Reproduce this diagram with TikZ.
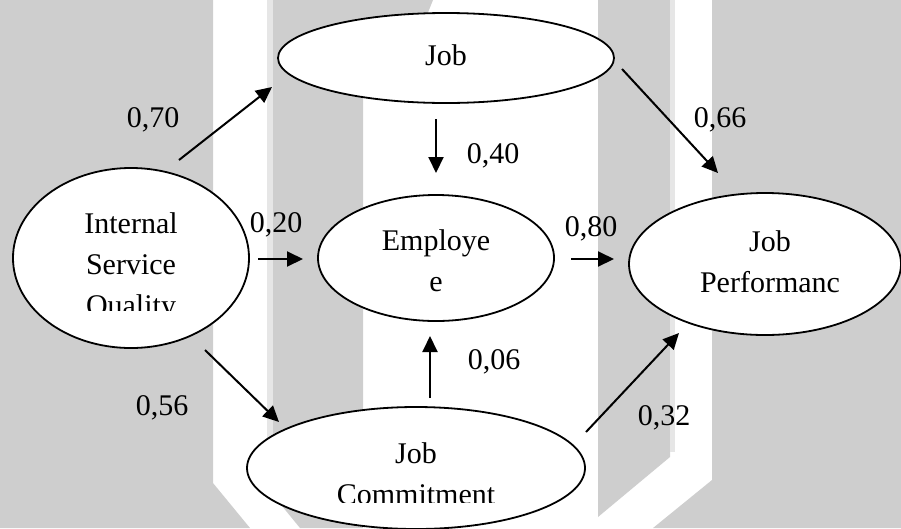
\documentclass[tikz,border=0pt]{standalone}
\usepackage{fontspec}
\setmainfont{Liberation Serif}
\usepackage{tikz}
\usetikzlibrary{arrows.meta,shapes.geometric}
\definecolor{wmgray}{RGB}{206,206,206}
\definecolor{wmlight}{RGB}{230,230,230}
\tikzstyle{construct} = [ellipse, draw=black, fill=white, line width=1.8pt, inner sep=0pt]
\tikzstyle{ctext} = [anchor=base, align=center, inner sep=0pt, font=\fontsize{30}{41}\selectfont]
\tikzstyle{coef} = [anchor=base, inner sep=0pt, font=\fontsize{30}{41}\selectfont]
\tikzstyle{arrow} = [line width=2pt, -{Triangle[length=16pt,width=15pt]}]

\begin{document}
\begin{tikzpicture}[x=1pt, y=-1pt]
\useasboundingbox (0,0) rectangle (901,528);
% watermark bands
\fill[wmgray] (0,0) -- (213,0) -- (213,483) -- (250,528) -- (0,528) -- cycle;
\fill[wmlight] (267,0) rectangle (273,495);
\fill[wmgray] (273,0) -- (433,0) -- (425,20) -- (363,60) -- (363,528) -- (300,528) -- (273,495) -- cycle;
\fill[wmgray] (598,0) -- (670,0) -- (670,457) -- (598,517) -- cycle;
\fill[wmlight] (670,0) rectangle (675,452);
\fill[wmgray] (712,0) -- (901,0) -- (901,528) -- (653,528) -- (712,480) -- cycle;

% constructs (text anchored at the baseline of its last line)
\node[construct, minimum width=336pt, minimum height=90pt] (job) at (446,58) {};
\node[ctext] (jobtxt) at (446,65) {Job};

\node[construct, minimum width=236pt, minimum height=180pt] (isq) at (131,258) {};
\begin{scope}
\clip (30,200) rectangle (240,310);
\node[ctext] (isqtxt) at (131,315) {Internal\\Service\\Quality};
\end{scope}

\node[construct, minimum width=236pt, minimum height=126pt] (emp) at (436,258) {};
\node[ctext] (emptxt) at (436,291) {Employe\\e};

\node[construct, minimum width=272pt, minimum height=142pt] (perf) at (765,264) {};
\node[ctext] (perftxt) at (770,292) {Job\\Performanc};

\node[construct, minimum width=338pt, minimum height=122pt] (com) at (416,468) {};
\begin{scope}
\clip (260,420) rectangle (570,502);
\node[ctext] (comtxt) at (416,504) {Job\\Commitment};
\end{scope}

% path ends
\coordinate (a1s) at (179,160); \coordinate (a1e) at (272,87);
\coordinate (a2s) at (622,69);  \coordinate (a2e) at (718,173);
\coordinate (a3s) at (436,119); \coordinate (a3e) at (436,173);
\coordinate (a4s) at (258,259); \coordinate (a4e) at (303,259);
\coordinate (a5s) at (571,259); \coordinate (a5e) at (614,259);
\coordinate (a6s) at (205,350); \coordinate (a6e) at (279,422);
\coordinate (a7s) at (430,398); \coordinate (a7e) at (430,336);
\coordinate (a8s) at (586,432); \coordinate (a8e) at (679,333);

\draw[arrow] (a1s) -- (a1e);
\draw[arrow] (a2s) -- (a2e);
\draw[arrow] (a3s) -- (a3e);
\draw[arrow] (a4s) -- (a4e);
\draw[arrow] (a5s) -- (a5e);
\draw[arrow] (a6s) -- (a6e);
\draw[arrow] (a7s) -- (a7e);
\draw[arrow] (a8s) -- (a8e);

% coefficients
\node[coef] (c1) at (153,127) {0,70};
\node[coef] (c2) at (720,127) {0,66};
\node[coef] (c3) at (493,163) {0,40};
\node[coef] (c4) at (276,232) {0,20};
\node[coef] (c5) at (591,236) {0,80};
\node[coef] (c6) at (494,369) {0,06};
\node[coef] (c7) at (162,415) {0,56};
\node[coef] (c8) at (664,425) {0,32};
\end{tikzpicture}
\end{document}
